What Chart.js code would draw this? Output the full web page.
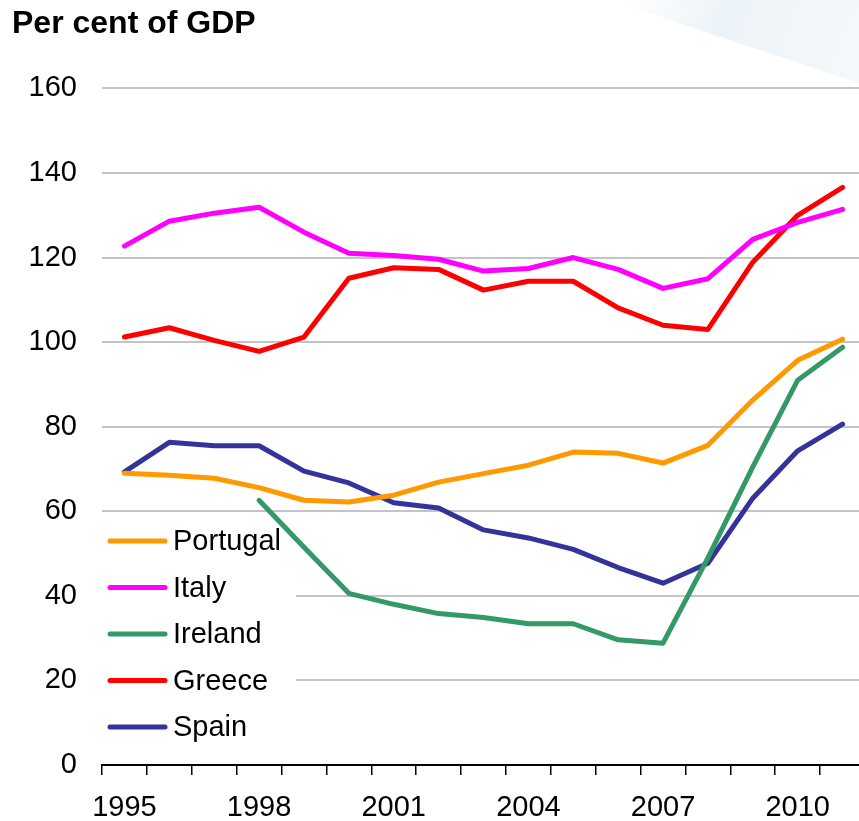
<!DOCTYPE html>
<html>
<head>
<meta charset="utf-8">
<script src="https://cdn.jsdelivr.net/npm/chart.js@4.4.1/dist/chart.umd.min.js"></script>
<style>
  html, body { margin: 0; padding: 0; background: #fff; }
  #wrap { width: 859px; height: 821px; overflow: hidden; position: relative; }
  #chart { position: absolute; left: 0; top: 0; }
</style>
</head>
<body>
<div id="wrap">
  <canvas id="chart" width="865" height="821"></canvas>
</div>
<script>
const years = ['1995', '1996', '1997', '1998', '1999', '2000', '2001', '2002', '2003',
  '2004', '2005', '2006', '2007', '2008', '2009', '2010', '2011'];
const shownYears = ['1995', '1998', '2001', '2004', '2007', '2010'];

const portugal = [69.0, 68.5, 67.8, 65.6, 62.6, 62.2, 63.8, 66.9, 68.9, 70.9, 74.0, 73.7, 71.4, 75.6, 86.3, 95.7, 100.7];
const italy = [122.7, 128.6, 130.5, 131.9, 126.0, 121.0, 120.5, 119.6, 116.8, 117.4, 120.0, 117.2, 112.7, 115.0, 124.3, 128.3, 131.4];
const ireland = [null, null, null, 62.6, 51.5, 40.6, 38.0, 35.8, 34.9, 33.4, 33.4, 29.6, 28.8, 49.0, 70.5, 91.0, 98.8];
const greece = [101.2, 103.4, 100.4, 97.8, 101.2, 115.1, 117.6, 117.2, 112.3, 114.4, 114.4, 108.1, 104.0, 103.0, 118.9, 130.0, 136.6];
const spain = [69.3, 76.3, 75.5, 75.5, 69.5, 66.7, 62.0, 60.8, 55.6, 53.7, 51.0, 46.7, 43.0, 47.7, 63.1, 74.3, 80.6];

const seriesNames = ['Portugal', 'Italy', 'Ireland', 'Greece', 'Spain'];
const seriesColors = ['#ff9900', '#ff00ff', '#339966', '#ff0000', '#333399'];
const seriesData = [portugal, italy, ireland, greece, spain];

const FONT = '"Liberation Sans", Arial, sans-serif';

// faint swoosh in the top right corner
const cornerShade = {
  id: 'cornerShade',
  beforeDraw(chart) {
    const ctx = chart.ctx;
    ctx.save();
    const g = ctx.createLinearGradient(620, 0, 859, 90);
    g.addColorStop(0, 'rgba(228,238,245,0)');
    g.addColorStop(0.4, 'rgba(228,238,245,0.7)');
    g.addColorStop(1, 'rgba(236,242,247,0.5)');
    ctx.fillStyle = g;
    ctx.beginPath();
    ctx.moveTo(610, 0);
    ctx.bezierCurveTo(700, 30, 790, 60, 865, 85);
    ctx.lineTo(865, 0);
    ctx.closePath();
    ctx.fill();
    ctx.restore();
  }
};

// legend box sitting inside the plot, over the gridlines but under the lines
const insideLegend = {
  id: 'insideLegend',
  beforeDatasetsDraw(chart) {
    const ctx = chart.ctx;
    ctx.save();
    ctx.fillStyle = '#ffffff';
    ctx.fillRect(100, 516, 196, 246);
    ctx.font = '29px ' + FONT;
    ctx.textBaseline = 'middle';
    ctx.textAlign = 'left';
    chart.data.datasets.forEach((ds, i) => {
      const y = 541 + i * 46.5;
      ctx.strokeStyle = ds.borderColor;
      ctx.lineWidth = 5;
      ctx.lineCap = 'round';
      ctx.beginPath();
      ctx.moveTo(110, y);
      ctx.lineTo(165, y);
      ctx.stroke();
      ctx.fillStyle = '#000';
      ctx.fillText(ds.label, 173, y + 1);
    });
    ctx.restore();
  }
};

new Chart(document.getElementById('chart'), {
  type: 'line',
  data: {
    labels: years,
    datasets: seriesNames.map((name, i) => ({
      label: name,
      data: seriesData[i],
      borderColor: seriesColors[i],
      backgroundColor: seriesColors[i],
      borderWidth: 5,
      borderCapStyle: 'round',
      borderJoinStyle: 'round',
      pointRadius: 0,
      tension: 0,
      spanGaps: false
    }))
  },
  options: {
    responsive: false,
    animation: false,
    devicePixelRatio: 1,
    layout: { padding: { left: 12, right: 0, top: 0, bottom: 0 } },
    plugins: {
      legend: { display: false },
      tooltip: { enabled: false },
      title: {
        display: true,
        text: 'Per cent of GDP',
        align: 'start',
        color: '#000',
        font: { family: FONT, size: 32, weight: 'bold', lineHeight: 1.2 },
        padding: { top: 5, bottom: 45 }
      }
    },
    scales: {
      x: {
        offset: true,
        grid: {
          offset: true,
          drawOnChartArea: false,
          drawTicks: true,
          tickLength: 10,
          color: '#000',
          lineWidth: 1.5
        },
        border: { display: true, color: '#000', width: 2 },
        ticks: {
          autoSkip: false,
          maxRotation: 0,
          color: '#000',
          padding: 16,
          font: { family: FONT, size: 29 },
          callback: function (value) {
            const lab = this.getLabelForValue(value);
            return shownYears.includes(lab) ? lab : '';
          }
        },
        afterFit(scale) { scale.height = 56; }
      },
      y: {
        min: 0,
        max: 160,
        grid: {
          color: (c) => c.tick && c.tick.value === 0 ? 'rgba(0,0,0,0)' : '#c4c4c4',
          lineWidth: 2,
          drawTicks: false
        },
        border: { display: false },
        ticks: {
          stepSize: 20,
          color: '#000',
          padding: 25,
          font: { family: FONT, size: 29 }
        },
        afterFit(scale) { scale.width = 90; }
      }
    }
  },
  plugins: [cornerShade, insideLegend]
});
</script>
</body>
</html>
